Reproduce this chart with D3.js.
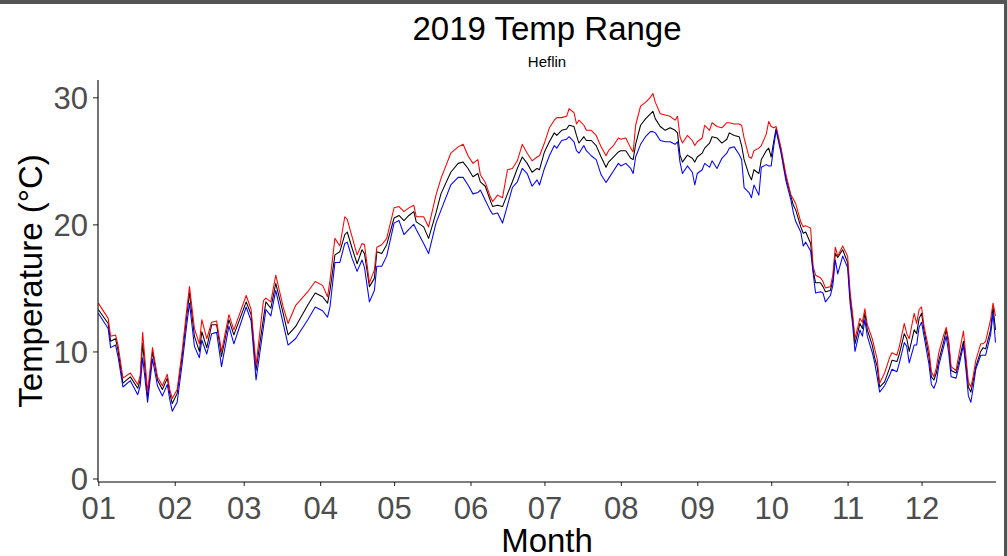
<!DOCTYPE html>
<html>
<head>
<meta charset="utf-8">
<script src="https://cdn.jsdelivr.net/npm/d3@7"></script>
<style>
  html, body { margin: 0; padding: 0; background: #fff; }
  svg { display: block; }
  text { font-family: "Liberation Sans", Arial, sans-serif; }
</style>
</head>
<body>
<script>
// Daily temperatures at Heflin, 2019 (day of year counted from Jan 1 = 0)
const dayOfYear = [
  0,4,5,7,8,10,13,16,17,18,20,22,24,26,28,29,30,32,34,36,37,39,41,42,44,46,48,50,53,55,
  60,62,64,67,68,70,72,75,77,80,85,88,91,93,94,96,98,100,101,103,105,107,108,110,112,113,115,117,120,122,
  124,126,128,129,132,134,137,139,143,146,148,150,152,154,155,157,159,160,162,164,166,168,170,172,174,176,178,179,181,183,
  185,186,188,190,191,193,194,195,197,198,200,202,204,206,207,209,211,212,214,216,217,218,220,222,224,225,226,228,230,232,
  234,235,236,237,239,241,242,243,245,246,248,249,251,253,255,256,258,260,261,262,264,265,266,268,269,271,272,273,274,275,
  277,279,281,282,283,285,286,287,289,290,291,293,294,295,297,298,299,300,302,304,305,306,307,309,310,311,312,314,315,316,
  317,319,321,322,324,325,327,328,329,331,332,333,334,335,337,338,339,340,341,343,344,345,346,348,349,351,352,353,354,355,
  356,358,359,360,362,363,364
];
const tMax = [
  13.8,12.6,11.2,11.3,10.5,7.9,8.3,7.4,8.1,11.5,6.8,10.3,8.0,7.3,8.2,7.0,6.3,7.0,10.0,13.5,15.1,11.8,10.6,12.5,11.0,12.3,12.4,10.0,12.9,11.7,
  14.4,13.3,8.9,14.0,14.2,13.9,16.0,13.5,12.2,13.6,14.7,15.5,15.2,14.3,15.6,18.9,18.3,20.6,20.4,19.0,17.6,18.5,18.4,15.4,16.4,18.2,18.4,18.9,21.3,21.4,
  21.0,21.3,21.5,20.6,20.6,19.8,22.3,23.6,25.6,26.1,26.3,25.4,24.8,25.1,23.9,23.3,22.2,21.8,22.3,22.1,24.3,24.4,25.0,26.3,25.6,25.0,25.3,25.4,26.4,27.6,
  28.2,28.4,28.4,28.5,29.1,28.8,27.9,28.2,27.8,27.4,27.4,27.0,26.1,25.4,25.8,26.2,26.8,26.7,26.8,26.0,25.7,27.8,29.3,29.6,30.0,30.3,29.6,28.7,28.6,28.5,
  28.2,28.5,26.9,26.4,27.0,26.6,26.2,26.5,26.8,27.8,27.4,28.0,27.7,27.6,28.0,28.0,27.9,27.9,27.8,26.8,25.3,25.2,25.8,26.0,26.2,27.1,28.1,27.7,27.6,27.7,
  26.0,23.9,22.3,22.0,21.6,20.2,19.8,19.9,19.7,16.7,16.0,15.8,15.5,15.0,15.1,16.0,18.2,17.5,18.3,17.5,14.7,13.0,11.0,12.6,12.3,13.35,12.1,11.0,10.2,9.4,
  7.5,8.3,9.5,9.9,9.7,10.4,12.2,11.4,11.0,13.0,12.2,13.3,13.5,12.0,10.1,8.4,8.0,8.7,9.9,11.3,11.9,10.9,8.8,8.5,9.6,11.6,9.6,7.6,7.2,8.1,
  9.3,10.6,10.6,10.8,12.5,13.8,12.8
];
const tMean = [
  13.3,12.2,10.8,11.0,10.1,7.5,8.0,7.1,7.75,10.65,6.4,10.0,7.75,7.0,7.9,6.7,5.9,6.7,9.6,13.0,14.6,11.2,10.0,11.55,10.3,12.1,12.1,9.6,12.5,11.3,
  13.9,12.9,8.5,12.6,13.9,13.4,15.35,13.0,11.3,11.95,13.65,14.6,14.3,13.8,14.8,17.6,17.85,19.2,19.4,18.1,16.9,18.0,17.7,15.1,15.75,17.85,17.7,18.4,20.5,20.7,
  20.3,20.7,21.0,20.2,19.8,18.9,20.9,22.4,24.1,24.8,24.9,24.4,23.75,24.0,23.35,23.0,21.9,21.4,21.5,21.4,22.4,23.35,24.4,25.3,24.8,24.1,24.4,24.3,25.7,26.5,
  27.2,27.0,27.4,27.5,27.8,27.7,27.0,26.4,26.9,26.6,26.6,26.2,25.3,24.5,24.9,25.3,25.7,25.8,25.8,25.2,25.1,26.3,27.8,28.3,28.7,28.9,28.3,27.7,27.4,27.6,
  27.4,27.2,25.45,24.9,25.45,25.2,24.9,25.3,25.6,26.0,26.4,26.9,26.8,26.4,26.7,27.2,27.0,26.9,26.2,25.1,23.9,23.5,24.3,24.0,25.1,25.8,26.0,25.3,26.5,27.55,
  25.8,23.7,22.2,21.5,21.1,19.8,19.3,19.4,18.5,16.4,15.4,15.4,15.1,14.7,14.8,15.6,17.7,17.4,18.0,17.0,14.3,12.7,10.6,12.2,11.8,13.0,11.7,10.5,9.5,8.8,
  7.2,7.6,8.67,9.3,9.2,9.8,11.4,11.0,10.0,11.7,11.4,12.6,13.0,11.7,9.6,8.0,7.75,8.3,9.3,10.8,11.7,10.6,8.5,8.3,9.1,10.8,9.1,7.2,6.8,7.75,
  8.8,10.0,10.3,10.2,11.7,13.5,11.7
];
const tMin = [
  13.0,11.8,10.3,10.5,9.6,7.2,7.7,6.6,7.3,9.5,6.0,9.4,7.3,6.5,7.4,6.2,5.3,6.0,9.0,12.3,13.8,10.4,9.5,10.9,9.8,11.4,11.5,8.8,12.0,10.6,
  13.5,12.4,7.75,11.9,13.3,12.8,14.8,12.2,10.5,11.0,12.5,13.5,13.2,12.7,13.5,17.0,17.0,18.5,18.6,17.3,16.3,17.2,16.6,13.9,14.8,16.7,16.7,17.5,20.1,20.3,
  19.2,19.6,20.0,19.6,18.5,17.7,20.1,21.1,23.1,23.7,23.7,23.1,22.4,22.5,22.7,21.9,21.1,20.8,20.9,20.1,21.5,22.9,23.35,24.4,24.0,23.0,23.5,23.1,24.4,25.4,
  26.2,26.0,26.6,26.7,26.9,26.5,25.8,25.6,26.2,25.8,25.4,25.1,23.9,23.3,23.6,24.2,24.8,24.6,24.8,24.4,24.0,25.3,26.3,26.9,27.3,27.3,27.2,26.6,26.5,26.5,
  26.3,26.5,24.9,24.0,24.6,24.1,23.1,24.0,24.3,24.8,24.5,25.0,24.4,25.2,25.6,26.0,26.1,25.5,25.1,22.9,22.5,22.1,23.1,22.3,24.5,24.7,24.6,24.6,26.1,27.4,
  25.6,23.4,21.9,20.9,20.2,19.4,18.3,18.6,17.9,16.2,14.6,14.7,14.6,13.9,14.4,15.2,17.2,16.1,17.5,16.6,13.8,12.2,10.0,11.7,11.2,12.5,11.2,9.9,9.1,8.0,
  6.8,7.3,8.1,8.6,8.4,9.1,10.7,10.4,9.1,10.5,10.5,11.9,12.3,11.2,9.0,7.4,7.1,7.6,8.9,10.4,11.2,9.9,8.0,7.9,8.7,10.5,8.6,6.5,6.0,7.2,
  8.6,9.7,9.7,9.7,11.3,13.0,10.7
];
const yTicks = [0, 10, 20, 30];
const chartTitle = "2019 Temp Range";
const chartSubtitle = "Heflin";
const xTitle = "Month";
const yTitle = "Temperature (°C)";

const W = 1007, H = 556;
const panel = { left: 98, right: 996, top: 80, bottom: 482 };

const svg = d3.select("body").append("svg").attr("width", W).attr("height", H);

// window frame: dark strip on top and right
svg.append("rect").attr("x", 0).attr("y", 0).attr("width", W).attr("height", 4).attr("fill", "#545454");
svg.append("rect").attr("x", 1004).attr("y", 0).attr("width", 3).attr("height", H).attr("fill", "#545454");

const start = new Date(2019, 0, 1);
const dateOf = d => d3.timeDay.offset(start, d);

const x = d3.scaleTime()
  .domain([start, new Date(2019, 11, 31)])
  .range([98.3, 995.5]);

// y: 0 at 478.5, 30 at 97.3
const pxPerDeg = (478.5 - 97.3) / 30;
const y = d3.scaleLinear()
  .domain([(478.5 - panel.bottom) / pxPerDeg, (478.5 - panel.top) / pxPerDeg])
  .range([panel.bottom, panel.top]);

const rows = dayOfYear.map((d, i) => ({ date: dateOf(d), max: tMax[i], mean: tMean[i], min: tMin[i] }));

const series = [
  { key: "mean", color: "#000000" },
  { key: "max", color: "#ff0000" },
  { key: "min", color: "#0000ff" }
];

const g = svg.append("g");
series.forEach(s => {
  g.append("path")
    .datum(rows)
    .attr("fill", "none")
    .attr("stroke", s.color)
    .attr("stroke-width", 1.05)
    .attr("stroke-linejoin", "round")
    .attr("d", d3.line().x(r => x(r.date)).y(r => y(r[s.key])));
});

// axes
const xAxis = d3.axisBottom(x)
  .tickValues(d3.range(12).map(m => new Date(2019, m, 1)))
  .tickFormat(d3.timeFormat("%m"))
  .tickSize(4).tickPadding(4);
const yAxis = d3.axisLeft(y).tickValues(yTicks).tickSize(5).tickPadding(5);

const gx = svg.append("g").attr("transform", `translate(0,${panel.bottom})`).call(xAxis);
const gy = svg.append("g").attr("transform", `translate(${panel.left},0)`).call(yAxis);

[gx, gy].forEach(a => {
  a.select(".domain").remove();
  a.selectAll(".tick line").attr("stroke", "#333333").attr("stroke-width", 1.1);
  a.selectAll(".tick text")
    .attr("fill", "#4d4d4d")
    .style("font-size", "31px")
    .style("font-family", "'Liberation Sans', Arial, sans-serif");
});
gx.selectAll(".tick text").attr("dy", "0.95em");
gy.selectAll(".tick text").attr("dy", "0.36em");

// axis lines
svg.append("line").attr("x1", panel.left).attr("x2", panel.right)
  .attr("y1", panel.bottom).attr("y2", panel.bottom)
  .attr("stroke", "#000").attr("stroke-width", 1.1);
svg.append("line").attr("x1", panel.left).attr("x2", panel.left)
  .attr("y1", panel.top).attr("y2", panel.bottom)
  .attr("stroke", "#000").attr("stroke-width", 1.1);

// titles
const cx = (panel.left + panel.right) / 2;
svg.append("text").attr("x", cx).attr("y", 39.5).attr("text-anchor", "middle")
  .style("font-size", "33px").attr("fill", "#000").text(chartTitle);
svg.append("text").attr("x", cx).attr("y", 66.7).attr("text-anchor", "middle")
  .style("font-size", "15px").attr("fill", "#000").text(chartSubtitle);
svg.append("text").attr("x", cx).attr("y", 552).attr("text-anchor", "middle")
  .style("font-size", "33px").attr("fill", "#000").text(xTitle);
svg.append("text")
  .attr("transform", `translate(42,${(panel.top + panel.bottom) / 2}) rotate(-90)`)
  .attr("text-anchor", "middle")
  .style("font-size", "33px").attr("fill", "#000").text(yTitle);
</script>
</body>
</html>
